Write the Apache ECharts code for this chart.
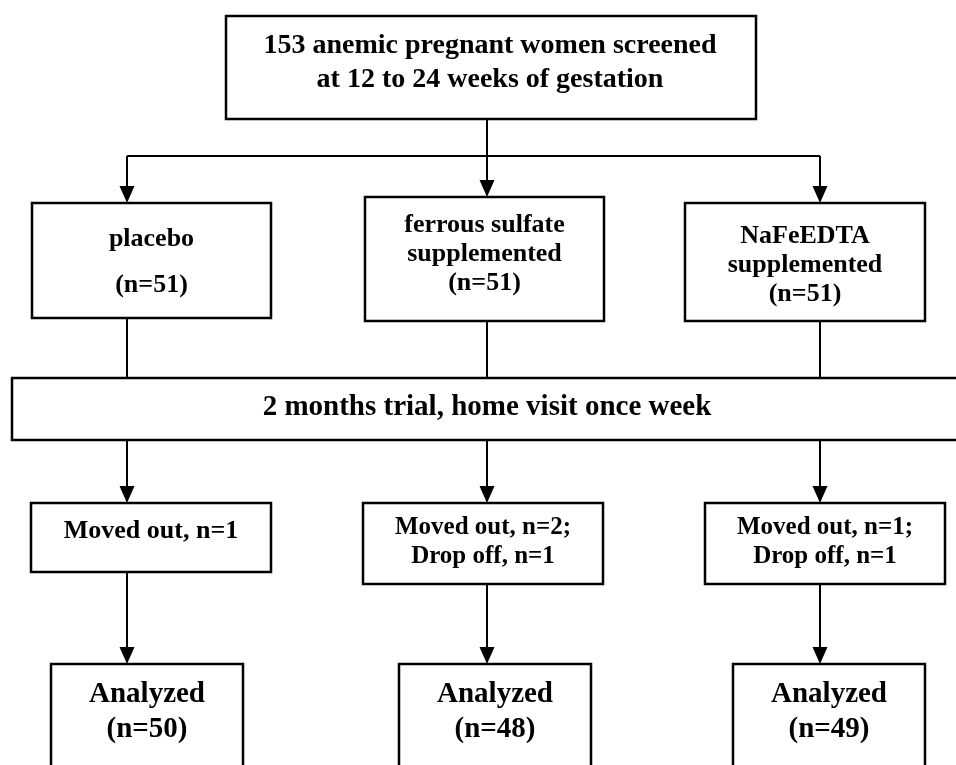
<!DOCTYPE html>
<html>
<head>
<meta charset="utf-8">
<script src="https://cdn.jsdelivr.net/npm/echarts@6/dist/echarts.min.js"></script>
<style>
html,body{margin:0;padding:0;background:#fff;}
#main{width:956px;height:765px;}
</style>
</head>
<body>
<div id="main"></div>
<script>
// 流程图数据
var screenedTotal = 153;
var screenedWeeks = [12, 24];
var groupNames = ['placebo', 'ferrous sulfate\nsupplemented', 'NaFeEDTA\nsupplemented'];
var groupN = [51, 51, 51];
var movedOut = [1, 2, 1];
var dropOff = [0, 1, 1];
var analyzedN = [50, 48, 49];
var trialText = '2 months trial, home visit once week';

// 版面：像素坐标（0,0 为左上）
var W = 956, H = 765;
var colX = [127, 487, 820];//三列连线的x
var topBox = [226, 16, 756, 119];
var groupBoxes = [[32, 203, 271, 318], [365, 197, 604, 321], [685, 203, 925, 321]];
var trialBox = [12, 378, 962, 440];
var movedBoxes = [[31, 503, 271, 572], [363, 503, 603, 584], [705, 503, 945, 584]];
var analyzedBoxes = [[51, 664, 243, 780], [399, 664, 591, 780], [733, 664, 925, 780]];
var linkY = 156;//水平连线

var FONT = 'Liberation Serif, Times New Roman, serif';

// 生成方框
var boxes = [];
boxes.push({rect: topBox, text: screenedTotal + ' anemic pregnant women screened\nat ' + screenedWeeks[0] + ' to ' + screenedWeeks[1] + ' weeks of gestation', size: 28, lh: 34, dy: -5, cx: 490});
var groupDy = [2, -5, 3];
for (var i = 0; i < 3; i++) {
    var t = i == 0 ? groupNames[i] + '\n\n(n=' + groupN[i] + ')' : groupNames[i] + '\n(n=' + groupN[i] + ')';
    boxes.push({rect: groupBoxes[i], text: t, size: 26, lh: i == 0 ? 23 : 29, dy: groupDy[i]});
}
boxes.push({rect: trialBox, text: trialText, size: 29, lh: 30, dy: -1, cx: 487});
for (var i = 0; i < 3; i++) {
    var t = 'Moved out, n=' + movedOut[i] + (dropOff[i] ? ';\nDrop off, n=' + dropOff[i] : '');
    boxes.push({rect: movedBoxes[i], text: t, size: dropOff[i] ? 25 : 26, lh: 29, dy: dropOff[i] ? -1 : -6});
}
for (var i = 0; i < 3; i++) {
    boxes.push({rect: analyzedBoxes[i], text: 'Analyzed\n(n=' + analyzedN[i] + ')', size: 29, lh: 35, dy: -10});
}

// 生成连线：[x0,y0,x1,y1,是否箭头]
var links = [];
links.push([colX[1], topBox[3], colX[1], linkY, 0]);
links.push([colX[0], linkY, colX[2], linkY, 0]);
for (var i = 0; i < 3; i++) {
    links.push([colX[i], linkY, colX[i], groupBoxes[i][1], 1]);
    links.push([colX[i], groupBoxes[i][3], colX[i], trialBox[1], 0]);
    links.push([colX[i], trialBox[3], colX[i], movedBoxes[i][1], 1]);
    links.push([colX[i], movedBoxes[i][3], colX[i], analyzedBoxes[i][1], 1]);
}

function renderLink(params, api) {
    var p0 = api.coord([api.value(0), api.value(1)]);
    var p1 = api.coord([api.value(2), api.value(3)]);
    var children = [];
    var arrow = api.value(4);
    var endY = arrow ? p1[1] - 14 : p1[1];
    children.push({type: 'line', shape: {x1: p0[0], y1: p0[1], x2: p1[0], y2: endY}, style: {stroke: '#000', lineWidth: 2}});
    if (arrow) {
        children.push({type: 'polygon', shape: {points: [[p1[0] - 7.5, p1[1] - 17], [p1[0] + 7.5, p1[1] - 17], [p1[0], p1[1]]]}, style: {fill: '#000'}});
    }
    return {type: 'group', children: children};
}

function renderBox(params, api) {
    var b = boxes[params.dataIndex];
    var p0 = api.coord([api.value(0), api.value(1)]);
    var p1 = api.coord([api.value(2), api.value(3)]);
    var cx = b.cx ? api.coord([b.cx, 0])[0] : (p0[0] + p1[0]) / 2;
    return {
        type: 'group',
        children: [
            {type: 'rect', shape: {x: p0[0], y: p0[1], width: p1[0] - p0[0], height: p1[1] - p0[1]},
             style: {fill: '#fff', stroke: '#000', lineWidth: 2.5}},
            {type: 'text', x: cx, y: (p0[1] + p1[1]) / 2 + b.dy,
             style: {text: b.text, fontFamily: FONT, fontWeight: 'bold', fontSize: b.size, lineHeight: b.lh,
                     align: 'center', verticalAlign: 'middle', fill: '#000'}}
        ]
    };
}

var chart = echarts.init(document.getElementById('main'));
chart.setOption({
    animation: false,
    backgroundColor: '#fff',
    grid: {left: 0, right: 0, top: 0, bottom: 0},
    xAxis: {type: 'value', min: 0, max: W, show: false},
    yAxis: {type: 'value', min: 0, max: H, inverse: true, show: false},
    series: [
        {type: 'custom', renderItem: renderLink, data: links, clip: false, silent: true},
        {type: 'custom', renderItem: renderBox, data: boxes.map(function (b) { return b.rect; }), clip: false, silent: true}
    ]
});
</script>
</body>
</html>
